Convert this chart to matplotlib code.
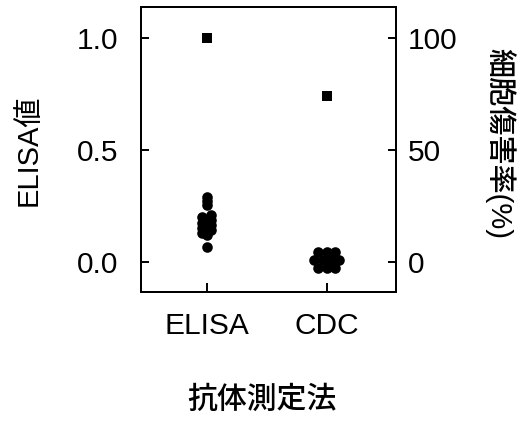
import matplotlib
matplotlib.use("Agg")
import matplotlib.pyplot as plt

plt.rcParams["font.family"] = ["Liberation Sans", "Noto Sans CJK JP"]

methods = ["ELISA", "CDC"]

# ELISA values (left axis)
elisa_vals = [0.29, 0.273, 0.255, 0.21, 0.20, 0.187, 0.176, 0.164, 0.153, 0.142, 0.13, 0.12, 0.068]
elisa_ctrl = 1.0

# CDC cytotoxicity, % (right axis)
cdc_vals = [4.5, 4.5, 4.5, 0.8, 0.8, 0.8, 0.8, -2.6, -2.6, -2.6]
cdc_ctrl = 74

# horizontal spread of overlapping dots (category units)
elisa_dx = [0, 0, 0, 0.037, -0.037, 0.037, -0.037, 0.037, -0.037, 0.037, -0.037, 0, 0]
cdc_dx = [-0.07, 0, 0.07, -0.105, -0.035, 0.035, 0.105, -0.07, 0, 0.07]

fig = plt.figure(figsize=(5.2, 4.28), dpi=100)
ax = fig.add_axes([0.271, 0.318, 0.490, 0.666])
ax2 = ax.twinx()

ax.set_xlim(-0.546, 1.574)
ax.set_ylim(-0.133, 1.138)
ax2.set_ylim(-13.3, 113.8)

ax.scatter([0 + d for d in elisa_dx], elisa_vals, s=58, c="black", marker="o", linewidths=0, zorder=3)
ax.scatter([0], [elisa_ctrl], s=60, c="black", marker="s", linewidths=0, zorder=3)
ax2.scatter([1 + d for d in cdc_dx], cdc_vals, s=58, c="black", marker="o", linewidths=0, zorder=3)
ax2.scatter([1], [cdc_ctrl], s=60, c="black", marker="s", linewidths=0, zorder=3)

ax.set_xticks([0, 1])
ax.set_xticklabels(methods)
ax.set_yticks([0, 0.5, 1.0])
ax.set_yticklabels(["0.0", "0.5", "1.0"])
ax2.set_yticks([0, 50, 100])

for a in (ax, ax2):
    for s in a.spines.values():
        s.set_linewidth(1.4)
ax.tick_params(axis="x", direction="in", length=6.5, width=1.4, labelsize=21.5, pad=14.5)
ax.tick_params(axis="y", direction="in", length=5.5, width=1.4, labelsize=21.5, pad=16.5)
ax2.tick_params(axis="y", direction="in", length=5.5, width=1.4, labelsize=21.5, pad=8.5)

fig.text(29 / 520, 1 - 150 / 428, "ELISA値", rotation=90, ha="center", va="center", fontsize=21)
fig.text(500 / 520, 1 - 143 / 428, "細胞傷害率(%)", rotation=270, ha="center", va="center",
         fontsize=21, fontweight="medium")
fig.text(262 / 520, 1 - 400 / 428, "抗体測定法", ha="center", va="center", fontsize=21.5,
         fontweight="medium")

fig.savefig("out.png", dpi=100)
